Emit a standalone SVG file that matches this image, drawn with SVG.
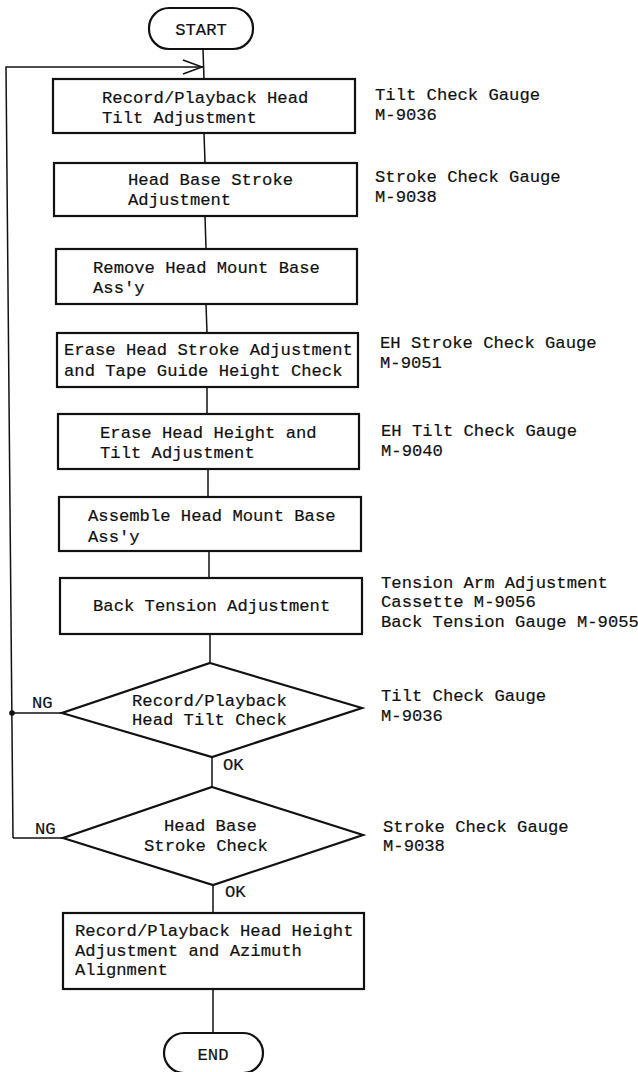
<svg xmlns="http://www.w3.org/2000/svg" width="638" height="1072" viewBox="0 0 638 1072">
<style>
  .bg{fill:#ffffff}
  .box{fill:#ffffff;stroke:#111;stroke-width:2.2}
  .ln{fill:none;stroke:#111;stroke-width:1.5}
  text{font-family:"Liberation Mono","DejaVu Sans Mono",monospace;font-size:17.2px;fill:#111;stroke:#111;stroke-width:0.2}
  .c{text-anchor:middle}
</style>
<rect class="bg" x="0" y="0" width="638" height="1072"/>
<g id="connectors">
  <line class="ln" x1="203" y1="49" x2="204" y2="79"/>
  <polyline class="ln" points="13,838 6,67 203,67"/>
  <polyline class="ln" points="183,60 202,67 183,74"/>
  <line class="ln" x1="204" y1="133" x2="205" y2="163"/>
  <line class="ln" x1="205" y1="216" x2="206" y2="249"/>
  <line class="ln" x1="206" y1="304" x2="207" y2="333"/>
  <line class="ln" x1="207" y1="387" x2="207" y2="414"/>
  <line class="ln" x1="208" y1="469" x2="208" y2="497"/>
  <line class="ln" x1="209" y1="551" x2="209" y2="578"/>
  <line class="ln" x1="210" y1="634" x2="210" y2="663"/>
  <line class="ln" x1="212" y1="757" x2="212" y2="787"/>
  <line class="ln" x1="213" y1="885" x2="213" y2="913"/>
  <line class="ln" x1="213" y1="989" x2="213" y2="1033"/>
  <line class="ln" x1="12" y1="713" x2="62" y2="713"/>
  <line class="ln" x1="13" y1="838" x2="63" y2="838"/>
  <circle cx="12" cy="713" r="2.8" fill="#111"/>
  <text x="32" y="708">NG</text>
  <text x="35" y="834">NG</text>
  <text x="223" y="770">OK</text>
  <text x="225" y="897">OK</text>
</g>
<g id="start">
  <rect class="box" x="149" y="8" width="104" height="41" rx="20" ry="20"/>
  <text class="c" x="201" y="35">START</text>
</g>
<g id="box1">
  <rect class="box" x="53" y="79" width="302" height="54"/>
  <text x="102" y="103">Record/Playback Head</text>
  <text x="102" y="123">Tilt Adjustment</text>
</g>
<g id="label1">
  <text x="375" y="100">Tilt Check Gauge</text>
  <text x="375" y="120">M-9036</text>
</g>
<g id="box2">
  <rect class="box" x="54" y="163" width="303" height="53"/>
  <text x="128" y="185">Head Base Stroke</text>
  <text x="128" y="205">Adjustment</text>
</g>
<g id="label2">
  <text x="375" y="182">Stroke Check Gauge</text>
  <text x="375" y="202">M-9038</text>
</g>
<g id="box3">
  <rect class="box" x="56" y="249" width="301" height="55"/>
  <text x="93" y="273">Remove Head Mount Base</text>
  <text x="93" y="293">Ass'y</text>
</g>
<g id="box4">
  <rect class="box" x="57" y="333" width="301" height="54"/>
  <text x="64" y="355">Erase Head Stroke Adjustment</text>
  <text x="64" y="376">and Tape Guide Height Check</text>
</g>
<g id="label4">
  <text x="380" y="348">EH Stroke Check Gauge</text>
  <text x="380" y="368">M-9051</text>
</g>
<g id="box5">
  <rect class="box" x="58" y="414" width="301" height="55"/>
  <text x="100" y="438">Erase Head Height and</text>
  <text x="100" y="458">Tilt Adjustment</text>
</g>
<g id="label5">
  <text x="381" y="436">EH Tilt Check Gauge</text>
  <text x="381" y="456">M-9040</text>
</g>
<g id="box6">
  <rect class="box" x="59" y="497" width="302" height="54"/>
  <text x="88" y="521">Assemble Head Mount Base</text>
  <text x="88" y="542">Ass'y</text>
</g>
<g id="box7">
  <rect class="box" x="60" y="578" width="302" height="56"/>
  <text x="93" y="611">Back Tension Adjustment</text>
</g>
<g id="label7">
  <text x="381" y="588">Tension Arm Adjustment</text>
  <text x="381" y="607">Cassette M-9056</text>
  <text x="381" y="627">Back Tension Gauge M-9055</text>
</g>
<g id="decision1">
  <polygon class="box" points="210,663 362,708 212,757 62,713"/>
  <text x="132" y="706">Record/Playback</text>
  <text x="132" y="725">Head Tilt Check</text>
</g>
<g id="label8">
  <text x="381" y="701">Tilt Check Gauge</text>
  <text x="381" y="721">M-9036</text>
</g>
<g id="decision2">
  <polygon class="box" points="212,787 363,835 213,885 63,838"/>
  <text x="164" y="831">Head Base</text>
  <text x="144" y="851">Stroke Check</text>
</g>
<g id="label9">
  <text x="383" y="832">Stroke Check Gauge</text>
  <text x="383" y="851">M-9038</text>
</g>
<g id="box8">
  <rect class="box" x="63" y="913" width="301" height="76"/>
  <text x="75" y="936">Record/Playback Head Height</text>
  <text x="75" y="956">Adjustment and Azimuth</text>
  <text x="75" y="975">Alignment</text>
</g>
<g id="end">
  <rect class="box" x="164" y="1033" width="99" height="40" rx="20" ry="20"/>
  <text class="c" x="213" y="1060">END</text>
</g>
</svg>
